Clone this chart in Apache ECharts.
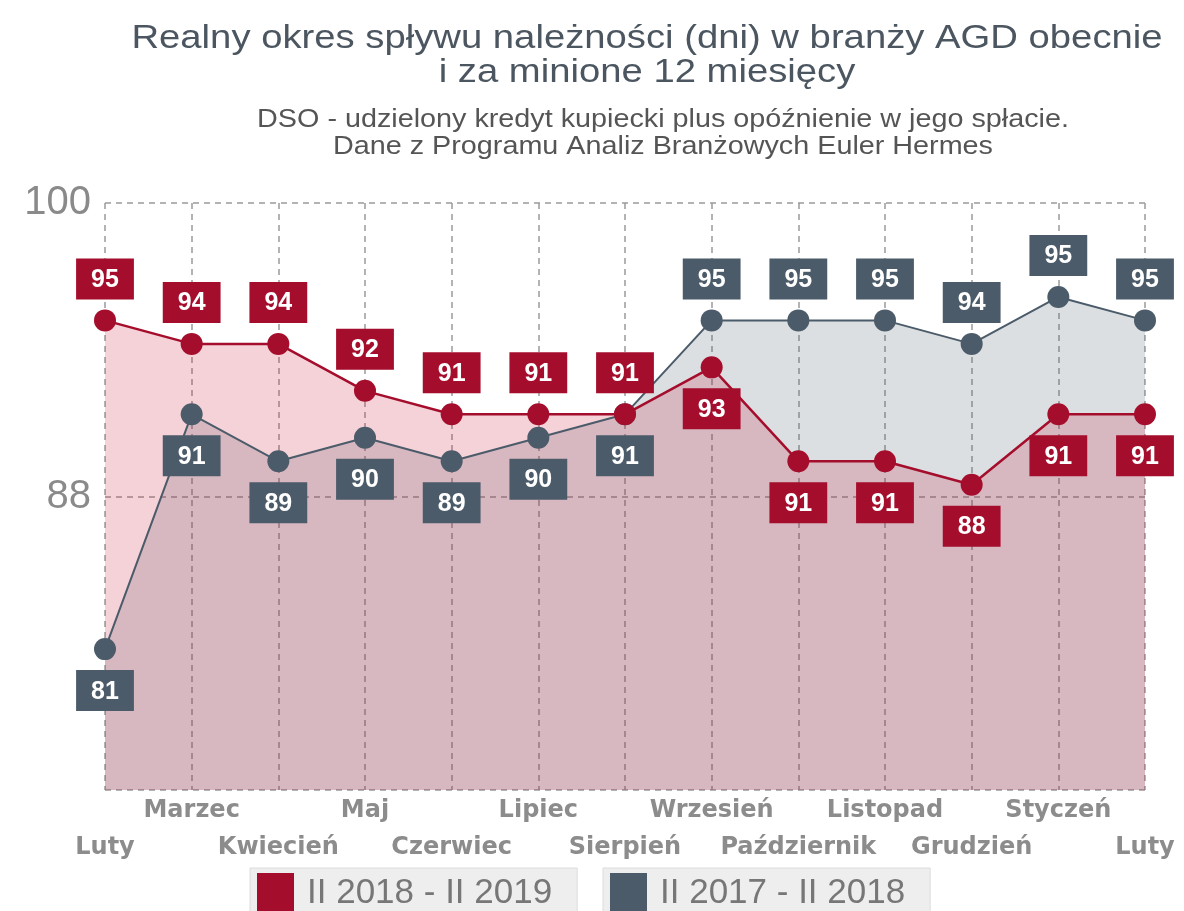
<!DOCTYPE html>
<html>
<head>
<meta charset="utf-8">
<title>DSO AGD</title>
<script src="https://cdn.jsdelivr.net/npm/echarts@6/dist/echarts.min.js"></script>
<style>
    html, body { margin: 0; padding: 0; background: #fff; }
    #chart { width: 1184px; height: 911px; }
</style>
</head>
<body>
<div id="chart"></div>
<script>
// miesiace od lutego do lutego
var months = ['Luty', 'Marzec', 'Kwiecień', 'Maj', 'Czerwiec', 'Lipiec', 'Sierpień',
    'Wrzesień', 'Październik', 'Listopad', 'Grudzień', 'Styczeń', 'Luty'];

// II 2018 - II 2019 (polozenie punktow i wypisane etykiety)
var currentValues = [95, 94, 94, 92, 91, 91, 91, 93, 89, 89, 88, 91, 91];
var currentLabels = [95, 94, 94, 92, 91, 91, 91, 93, 91, 91, 88, 91, 91];

// II 2017 - II 2018
var previousValues = [81, 91, 89, 90, 89, 90, 91, 95, 95, 95, 94, 96, 95];
var previousLabels = [81, 91, 89, 90, 89, 90, 91, 95, 95, 95, 94, 95, 95];

var seriesNames = ['II 2018 - II 2019', 'II 2017 - II 2018'];

var RED = '#a50d2c';
var SLATE = '#4b5b69';

// etykieta nad punktem gdy seria jest wyzej od drugiej
function buildData(values, other, onTopWhenEqual) {
    return values.map(function (v, i) {
        var above = onTopWhenEqual ? v >= other[i] : v > other[i];
        return { value: v, label: { position: above ? 'top' : 'bottom' } };
    });
}

function boxLabel(color, labels) {
    return {
        show: true,
        distance: 10,
        color: '#fff',
        fontFamily: 'Liberation Sans',
        fontWeight: 'bold',
        fontSize: 25,
        lineHeight: 27,
        backgroundColor: color,
        padding: [8, 15, 6, 15],
        formatter: function (p) { return labels[p.dataIndex]; }
    };
}

function areaSeries(name, values, fill) {
    return {
        name: name,
        type: 'line',
        data: values,
        symbol: 'none',
        silent: true,
        lineStyle: { width: 0 },
        areaStyle: { color: fill, opacity: 1, origin: 'start' },
        z: 1
    };
}

function legendBox(name, left) {
    return {
        data: [name],
        left: left, top: 868,
        icon: 'rect', itemWidth: 37, itemHeight: 40, itemGap: 0,
        backgroundColor: '#eeeeee', borderColor: '#dcdcdc', borderWidth: 1,
        padding: [5, 25, 5, 7], borderRadius: 0,
        textStyle: {
            fontFamily: 'Liberation Sans', fontSize: 35, color: '#777',
            padding: [0, 0, 0, 8]
        }
    };
}

var dom = document.getElementById('chart');
var myChart = echarts.init(dom);

var option = {
    backgroundColor: '#fff',
    animation: false,
    graphic: [
        {
            type: 'text', x: 647, y: 22, scaleX: 1.125,
            style: {
                text: 'Realny okres spływu należności (dni) w branży AGD obecnie\ni za minione 12 miesięcy',
                textAlign: 'center', fill: '#4b5660',
                font: '34px "Liberation Sans"', lineHeight: 34
            }
        },
        {
            type: 'text', x: 663, y: 107, scaleX: 1.15,
            style: {
                text: 'DSO - udzielony kredyt kupiecki plus opóźnienie w jego spłacie.\nDane z Programu Analiz Branżowych Euler Hermes',
                textAlign: 'center', fill: '#555',
                font: '25px "Liberation Sans"', lineHeight: 27
            }
        }
    ],
    legend: [legendBox(seriesNames[0], 250), legendBox(seriesNames[1], 603)],
    grid: { left: 105, right: 39, top: 203, bottom: 121 },
    xAxis: {
        type: 'category',
        data: months,
        boundaryGap: false,
        axisLine: { show: false },
        axisTick: { show: false },
        axisLabel: {
            margin: 2,
            fontFamily: 'DejaVu Sans',
            fontWeight: 'bold',
            fontSize: 24,
            lineHeight: 37,
            color: '#8c8c8c',
            interval: 0,
            formatter: function (value, index) {
                return index % 2 ? value : '\n' + value;
            }
        },
        splitLine: { show: true, lineStyle: { color: '#9a9a9a', type: [6, 5], width: 1.5 } }
    },
    yAxis: {
        type: 'value',
        min: 75,
        max: 100,
        interval: 12.5,
        axisLine: { show: false },
        axisTick: { show: false },
        axisLabel: {
            showMinLabel: false,
            margin: 14,
            fontFamily: 'Liberation Sans',
            fontSize: 40,
            color: '#8a8a8a',
            formatter: function (v) { return v === 75 ? '' : Math.round(v); }
        },
        splitLine: { lineStyle: { color: '#9a9a9a', type: [6, 5], width: 1.5 } }
    },
    series: [
        areaSeries('obszar 2017', previousValues, 'rgba(75,95,110,0.2)'),
        areaSeries('obszar 2018', currentValues, 'rgba(200,30,60,0.2)'),
        {
            name: seriesNames[1],
            type: 'line',
            data: buildData(previousValues, currentValues, false),
            symbol: 'circle',
            symbolSize: 22,
            itemStyle: { color: SLATE },
            lineStyle: { color: SLATE, width: 2 },
            label: boxLabel(SLATE, previousLabels),
            z: 3
        },
        {
            name: seriesNames[0],
            type: 'line',
            data: buildData(currentValues, previousValues, true),
            symbol: 'circle',
            symbolSize: 22,
            itemStyle: { color: RED },
            lineStyle: { color: RED, width: 2.5 },
            label: boxLabel(RED, currentLabels),
            z: 4
        }
    ]
};

if (option && typeof option === "object") {
    myChart.setOption(option, true);
}
</script>
</body>
</html>
